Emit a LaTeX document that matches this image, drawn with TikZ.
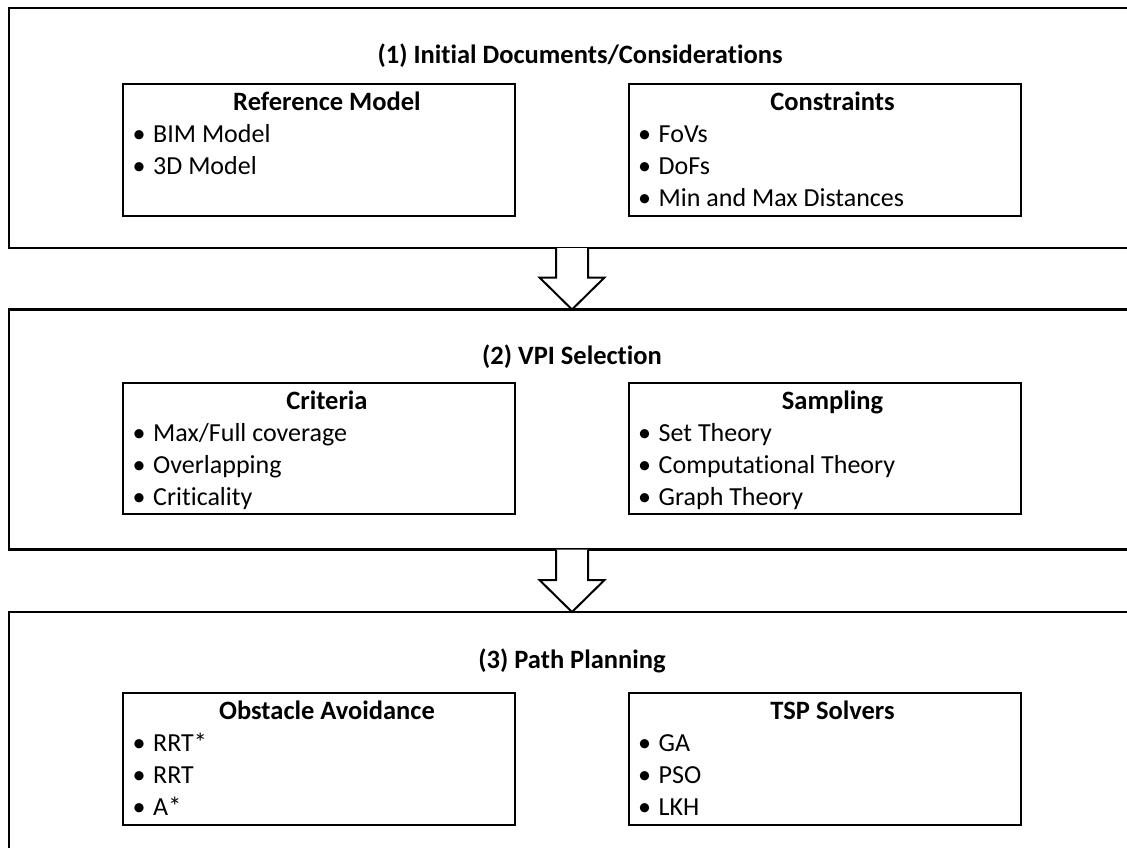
\documentclass[tikz,border=0pt]{standalone}
\usepackage{fontspec}
\setmainfont{Carlito}[Ligatures={NoCommon}]
\usetikzlibrary{calc}
\begin{document}
\begin{tikzpicture}[x=1pt,y=-1pt,
  stage/.style={draw,line width=2.4pt,minimum width=1126pt,minimum height=240pt,inner sep=0pt,outer sep=0pt},
  sub/.style={draw,line width=2pt,minimum width=392pt,minimum height=132pt,inner sep=0pt,outer sep=0pt},
  ttl/.style={font=\fontsize{26.5pt}{32pt}\selectfont\bfseries,anchor=base,inner sep=0pt},
  item/.style={font=\fontsize{26pt}{32pt}\selectfont,anchor=base west,inner sep=0pt},
  blt/.style={font=\fontsize{26pt}{32pt}\selectfont,anchor=base,inner sep=0pt},
  blockarrow/.style={draw,fill=white,line width=2pt,line join=miter}]
\useasboundingbox (0,0) rectangle (1127,847);
\clip (0,0) rectangle (1127,847);

% stages
\node[stage] (b1) at (572,128) {};
\node[stage] (b2) at (572,429.5) {};
\node[stage] (b3) at (572,732) {};

\node[ttl] (t1) at ($(b1.north)+(8,55)$) {(1) Initial Documents/Considerations};
\node[ttl] (t2) at ($(b2.north)+(0,55)$) {(2) VPI Selection};
\node[ttl] (t3) at ($(b3.north)+(0,56)$) {(3) Path Planning};

% sub boxes
\node[sub] (r1) at (319,150) {};
\node[sub] (r2) at (824.5,150) {};
\node[sub,minimum height=131pt] (r3) at (319,448.5) {};
\node[sub,minimum height=131pt] (r4) at (824.5,448.5) {};
\node[sub] (r5) at (319,759) {};
\node[sub] (r6) at (824.5,759) {};

% box r1
\node[ttl] (r1t) at ($(r1.north)+(8,26)$) {Reference Model};
\node[blt] (r1b1) at ($(r1.north west)+(16,58)$) {•};
\node[item] (r1i1) at ($(r1.north west)+(30,58)$) {BIM Model};
\node[blt] (r1b2) at ($(r1.north west)+(16,90)$) {•};
\node[item] (r1i2) at ($(r1.north west)+(30,90)$) {3D Model};

% box r2
\node[ttl] (r2t) at ($(r2.north)+(8,26)$) {Constraints};
\node[blt] (r2b1) at ($(r2.north west)+(16,58)$) {•};
\node[item] (r2i1) at ($(r2.north west)+(30,58)$) {FoVs};
\node[blt] (r2b2) at ($(r2.north west)+(16,90)$) {•};
\node[item] (r2i2) at ($(r2.north west)+(30,90)$) {DoFs};
\node[blt] (r2b3) at ($(r2.north west)+(16,122)$) {•};
\node[item] (r2i3) at ($(r2.north west)+(30,122)$) {Min and Max Distances};

% box r3
\node[ttl] (r3t) at ($(r3.north)+(8,26)$) {Criteria};
\node[blt] (r3b1) at ($(r3.north west)+(16,58)$) {•};
\node[item] (r3i1) at ($(r3.north west)+(30,58)$) {Max/Full coverage};
\node[blt] (r3b2) at ($(r3.north west)+(16,90)$) {•};
\node[item] (r3i2) at ($(r3.north west)+(30,90)$) {Overlapping};
\node[blt] (r3b3) at ($(r3.north west)+(16,122)$) {•};
\node[item] (r3i3) at ($(r3.north west)+(30,122)$) {Criticality};

% box r4
\node[ttl] (r4t) at ($(r4.north)+(8,26)$) {Sampling};
\node[blt] (r4b1) at ($(r4.north west)+(16,58)$) {•};
\node[item] (r4i1) at ($(r4.north west)+(30,58)$) {Set Theory};
\node[blt] (r4b2) at ($(r4.north west)+(16,90)$) {•};
\node[item] (r4i2) at ($(r4.north west)+(30,90)$) {Computational Theory};
\node[blt] (r4b3) at ($(r4.north west)+(16,122)$) {•};
\node[item] (r4i3) at ($(r4.north west)+(30,122)$) {Graph Theory};

% box r5
\node[ttl] (r5t) at ($(r5.north)+(8,26)$) {Obstacle Avoidance};
\node[blt] (r5b1) at ($(r5.north west)+(16,58)$) {•};
\node[item] (r5i1) at ($(r5.north west)+(30,58)$) {RRT*};
\node[blt] (r5b2) at ($(r5.north west)+(16,90)$) {•};
\node[item] (r5i2) at ($(r5.north west)+(30,90)$) {RRT};
\node[blt] (r5b3) at ($(r5.north west)+(16,122)$) {•};
\node[item] (r5i3) at ($(r5.north west)+(30,122)$) {A*};

% box r6
\node[ttl] (r6t) at ($(r6.north)+(8,26)$) {TSP Solvers};
\node[blt] (r6b1) at ($(r6.north west)+(16,58)$) {•};
\node[item] (r6i1) at ($(r6.north west)+(30,58)$) {GA};
\node[blt] (r6b2) at ($(r6.north west)+(16,90)$) {•};
\node[item] (r6i2) at ($(r6.north west)+(30,90)$) {PSO};
\node[blt] (r6b3) at ($(r6.north west)+(16,122)$) {•};
\node[item] (r6i3) at ($(r6.north west)+(30,122)$) {LKH};

% block arrows
\draw[blockarrow] ($(b1.south)+(-16,0)$) -- ($(b2.north)+(-16,-32)$) -- ($(b2.north)+(-32.5,-32)$)
  -- (b2.north) -- ($(b2.north)+(32.5,-32)$) -- ($(b2.north)+(16,-32)$) -- ($(b1.south)+(16,0)$);
\draw[blockarrow] ($(b2.south)+(-16,0)$) -- ($(b3.north)+(-16,-32)$) -- ($(b3.north)+(-32.5,-32)$)
  -- (b3.north) -- ($(b3.north)+(32.5,-32)$) -- ($(b3.north)+(16,-32)$) -- ($(b2.south)+(16,0)$);
\end{tikzpicture}
\end{document}
